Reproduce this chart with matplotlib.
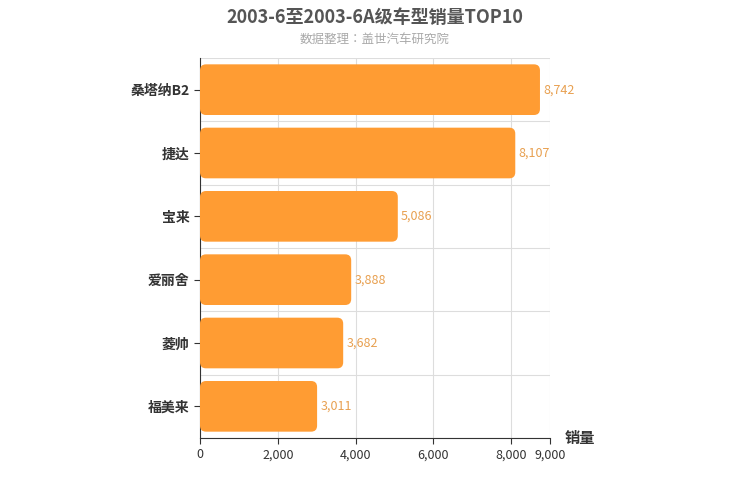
import matplotlib.pyplot as plt
from matplotlib import font_manager as fm
from matplotlib.patches import FancyBboxPatch

cjk = [f.name for f in fm.fontManager.ttflist if "CJK" in f.name]
fam = "Noto Sans CJK SC" if "Noto Sans CJK SC" in cjk else (cjk[0] if cjk else "DejaVu Sans")
plt.rcParams["font.family"] = fam
plt.rcParams["axes.unicode_minus"] = False

models = ["桑塔纳B2", "捷达", "宝来", "爱丽舍", "菱帅", "福美来"]
sales = [8742, 8107, 5086, 3888, 3682, 3011]
xticks = [0, 2000, 4000, 6000, 8000, 9000]

fig = plt.figure(figsize=(7.5, 5), dpi=100)
ax = fig.add_axes([200 / 750, 62 / 500, 350 / 750, 380 / 500])
n = len(models)
ax.set_xlim(0, 9000)
ax.set_ylim(-0.5, n - 0.5)

# aspect so rounded corners look circular in pixels
px_x = 9000 / 350
px_y = n / 380
r = 6 * px_x
h = 0.8
for i, (m, v) in enumerate(zip(models, sales)):
    y = n - 1 - i
    p = FancyBboxPatch((0, y - h / 2), v, h,
                       boxstyle=f"round,pad=0,rounding_size={r}",
                       mutation_aspect=px_y / px_x,
                       fc="#FF9C33", ec="none", zorder=3)
    ax.add_patch(p)
    ax.text(v + 80, y, f"{v:,}", va="center", ha="left", fontsize=9,
            color="#E8A050", zorder=4)

ax.set_yticks(range(n))
ax.set_yticklabels(models[::-1], fontsize=10, fontweight="bold", color="#333333")
ax.set_xticks(xticks)
ax.set_xticklabels([f"{t:,}" for t in xticks], fontsize=9, color="#333333")
for t in xticks:
    ax.axvline(t, color="#DDDDDD", lw=0.8, zorder=1)
for k in range(n + 1):
    ax.axhline(k - 0.5, color="#DDDDDD", lw=0.8, zorder=1)
for s in ["top", "right"]:
    ax.spines[s].set_visible(False)
for s in ["left", "bottom"]:
    ax.spines[s].set_color("#333333")
ax.tick_params(axis="y", length=4, color="#333333")
ax.tick_params(axis="x", length=4, color="#333333")

fig.text(0.5, 0.965, "2003-6至2003-6A级车型销量TOP10", ha="center", va="center",
         fontsize=13, fontweight="bold", color="#555555")
fig.text(0.5, 0.922, "数据整理：盖世汽车研究院", ha="center", va="center",
         fontsize=9, color="#AAAAAA")
fig.text(565 / 750, 1 - 438 / 500, "销量", ha="left", va="center",
         fontsize=11, fontweight="bold", color="#333333")

fig.savefig("out.png", dpi=100)
